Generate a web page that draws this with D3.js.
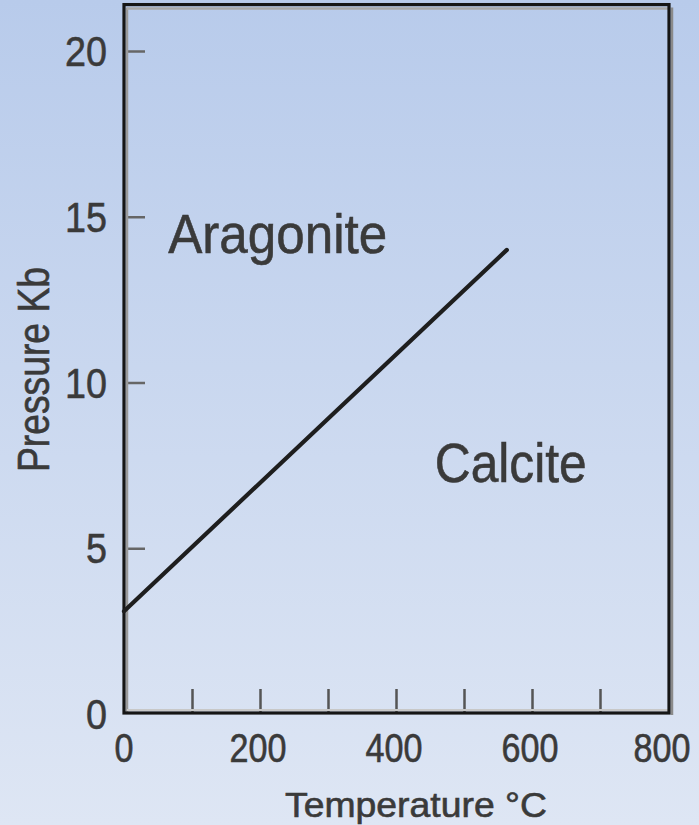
<!DOCTYPE html>
<html>
<head>
<meta charset="utf-8">
<script src="https://cdn.jsdelivr.net/npm/d3@7"></script>
<style>
  html, body { margin: 0; padding: 0; background: #cbd8ef; }
  svg { display: block; }
  text { font-family: "Liberation Sans", Arial, sans-serif; fill: #3a3a3a; stroke: #3a3a3a; stroke-width: 0.6; }
</style>
</head>
<body>
<div id="chart"></div>
<script>
// ---- data ----
const xTicks = [0, 200, 400, 600, 800];
const xMinorTicks = [100, 200, 300, 400, 500, 600, 700];
const yTicks = [0, 5, 10, 15, 20];
const yTickMarks = [5, 10, 15, 20];
const boundaryTemp = [0, 563];        // °C
const boundaryPressure = [3.1, 14.0];  // Kb
const regionNames = ["Aragonite", "Calcite"];
const regionTemp = [65, 457];
const regionPressure = [13.9, 7.0];
const xTitle = "Temperature °C";
const yTitle = "Pressure Kb";

const W = 699, H = 825;
const svg = d3.select("#chart").append("svg").attr("width", W).attr("height", H);

const defs = svg.append("defs");
const grad = defs.append("linearGradient").attr("id", "bg").attr("x1", 0).attr("y1", 0).attr("x2", 0).attr("y2", 1);
grad.append("stop").attr("offset", "0%").attr("stop-color", "#b8cbeb");
grad.append("stop").attr("offset", "100%").attr("stop-color", "#dee6f4");
svg.append("rect").attr("width", W).attr("height", H).attr("fill", "url(#bg)");

const x = d3.scaleLinear().domain([0, 800]).range([124, 668]);
const y = d3.scaleLinear().domain([0, 20]).range([714, 51]);
const yTop = 21.4;

const L = x(0), R = x(800), T = y(yTop), B = y(0) - 1;

// tick marks (inward)
const g = svg.append("g");
const xAxis = d3.axisTop(x).tickValues(xMinorTicks).tickSize(24).tickFormat("");
g.append("g").attr("transform", `translate(0,${B})`).call(xAxis)
  .call(s => s.select(".domain").remove())
  .call(s => s.selectAll("line").attr("stroke", "#555").attr("stroke-width", 2.5));
const yAxis = d3.axisRight(y).tickValues(yTickMarks).tickSize(18).tickFormat("");
g.append("g").attr("transform", `translate(${L + 3},0)`).call(yAxis)
  .call(s => s.select(".domain").remove())
  .call(s => s.selectAll("line").attr("stroke", "#666").attr("stroke-width", 2.5));

// frame with shadow lines
svg.append("line").attr("x1", L + 3).attr("x2", L + 3).attr("y1", T + 3).attr("y2", B).attr("stroke", "#9a9a9a").attr("stroke-width", 2.5);
svg.append("line").attr("x1", L + 3).attr("x2", R).attr("y1", T + 4).attr("y2", T + 4).attr("stroke", "#a8a8a8").attr("stroke-width", 2.5);
svg.append("line").attr("x1", L + 3).attr("x2", R).attr("y1", B - 3).attr("y2", B - 3).attr("stroke", "#c8c8c8").attr("stroke-width", 2);
svg.append("line").attr("x1", R + 4).attr("x2", R + 4).attr("y1", T + 3).attr("y2", B + 2).attr("stroke", "#8a8a8a").attr("stroke-width", 2.5);
svg.append("rect").attr("x", L).attr("y", T).attr("width", R - L + 1).attr("height", B - T)
  .attr("fill", "none").attr("stroke", "#161616").attr("stroke-width", 3.2);

// boundary line
const line = d3.line().x(d => x(d[0])).y(d => y(d[1]));
svg.append("path").datum(boundaryTemp.map((t, i) => [t, boundaryPressure[i]]))
  .attr("d", line).attr("fill", "none").attr("stroke", "#1e1e1e")
  .attr("stroke-width", 4.2).attr("stroke-linecap", "round");

// tick labels
const xl = svg.append("g");
xl.selectAll("text").data(xTicks).join("text")
  .attr("x", (d, i) => x(d) - (i === 0 ? 0 : i === xTicks.length - 1 ? 6 : 2)).attr("y", 762)
  .attr("text-anchor", "middle").attr("font-size", 40)
  .attr("textLength", d => String(d).length * 19).attr("lengthAdjust", "spacingAndGlyphs")
  .text(d => d);
const yl = svg.append("g");
yl.selectAll("text").data(yTicks).join("text")
  .attr("x", 107).attr("y", d => y(d) + 15)
  .attr("text-anchor", "end").attr("font-size", 43)
  .attr("textLength", d => String(d).length * 21).attr("lengthAdjust", "spacingAndGlyphs")
  .text(d => d);

// region labels
const regionWidths = [219, 152];
svg.selectAll("text.region").data(regionNames).join("text").attr("class", "region")
  .attr("x", (d, i) => x(regionTemp[i])).attr("y", (d, i) => y(regionPressure[i]))
  .attr("font-size", 56)
  .attr("textLength", (d, i) => regionWidths[i]).attr("lengthAdjust", "spacingAndGlyphs")
  .text(d => d);

// axis titles
svg.append("text").attr("x", 285).attr("y", 817).attr("font-size", 35)
  .attr("textLength", 262).attr("lengthAdjust", "spacingAndGlyphs").text(xTitle);
svg.append("text").attr("transform", "translate(49,472) rotate(-90)").attr("font-size", 44)
  .attr("textLength", 205).attr("lengthAdjust", "spacingAndGlyphs").text(yTitle);
</script>
</body>
</html>
